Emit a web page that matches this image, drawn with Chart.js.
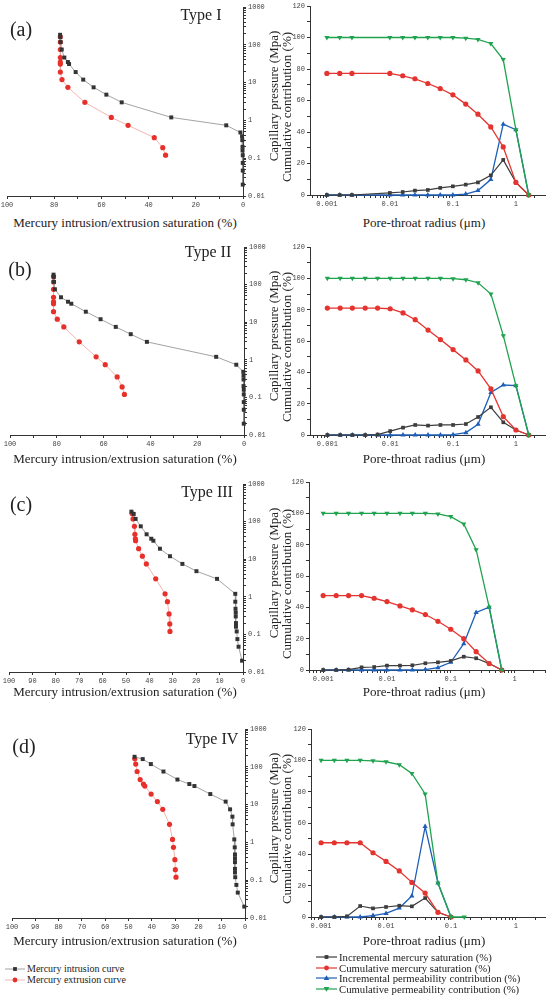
<!DOCTYPE html>
<html>
<head>
<meta charset="utf-8">
<script src="https://cdn.jsdelivr.net/npm/chart.js@4.4.1/dist/chart.umd.min.js"></script>
<style>
body { margin: 0; background: #fff; }
#page { position: relative; width: 550px; height: 999px; overflow: hidden; font-family: 'Liberation Serif', serif; color: #222; }
.box { position: absolute; }
.t { position: absolute; white-space: nowrap; line-height: 1; transform: translate(-50%, -50%); }
.lg { position: absolute; white-space: nowrap; line-height: 1; transform: translateY(-50%); }
</style>
</head>
<body>
<div id="page"></div>
<script>
// ---------------------------------------------------------------
// data
// ---------------------------------------------------------------

// capillary pressure steps (MPa), same for all samples
var intrusionPressure = [184, 160, 118, 75, 46, 35, 31, 19, 12, 7.5, 4.8, 3.0, 1.2, 0.74, 0.48, 0.38, 0.3, 0.2, 0.16, 0.12, 0.075, 0.047, 0.02];
var extrusionPressure = [163, 118, 75, 46, 35, 31, 19, 12, 7.5, 3.0, 1.2, 0.74, 0.35, 0.19, 0.12];

// mercury saturation (%) at those pressures
var intrusionI   = [77.5, 77.4, 77.3, 76.8, 75.7, 74.2, 73.7, 70.9, 67.7, 63.3, 57.9, 51.4, 30.4, 7.1, 1.1, 0.4, 0.3, 0.2, 0.2, 0.1, 0.1, 0.1, 0.1];
var extrusionI   = [77.4, 77.4, 77.4, 77.4, 77.4, 77.4, 77.4, 76.7, 74.2, 67.0, 55.8, 48.7, 37.6, 34.0, 32.8];
var intrusionII  = [81.4, 81.3, 81.2, 80.8, 78.2, 75.2, 73.8, 67.6, 61.3, 54.8, 48.4, 41.5, 11.9, 3.3, 0.3, 0.2, 0.2, 0.2, 0.1, 0.1, 0.1, 0.1, 0.1];
var extrusionII  = [81.4, 81.4, 81.4, 81.4, 81.4, 81.4, 81.4, 79.8, 77.0, 70.4, 63.2, 59.3, 54.2, 52.1, 51.1];
var intrusionIII = [47.7, 46.7, 45.9, 43.7, 41.2, 39.2, 38.3, 35.5, 31.2, 25.9, 19.9, 11.1, 3.3, 3.3, 3.2, 3.1, 3.1, 3.0, 3.0, 2.7, 2.4, 1.9, 0.4];
var extrusionIII = [47.4, 47.0, 46.4, 46.2, 46.0, 45.9, 44.6, 43.0, 41.3, 37.3, 33.3, 32.3, 31.6, 31.3, 31.2];
var intrusionIV  = [47.4, 43.9, 40.4, 35.0, 29.0, 23.9, 21.7, 14.9, 8.3, 6.4, 5.4, 5.3, 4.6, 4.4, 4.3, 4.3, 4.3, 4.3, 4.3, 4.2, 3.7, 3.1, 0.3];
var extrusionIV  = [47.3, 46.9, 46.3, 45.0, 43.6, 43.0, 40.3, 37.6, 35.3, 32.4, 31.1, 30.7, 30.1, 29.9, 29.6];

// pore-throat radius bins (um)
var poreRadius = [0.001, 0.0016, 0.0025, 0.004, 0.0063, 0.01, 0.016, 0.025, 0.04, 0.063, 0.1, 0.16, 0.25, 0.4, 0.63, 1, 1.6];

var incMercI  = [0, 0, 0, null, null, 1.3, 1.9, 2.8, 3.2, 4.5, 5.5, 6.6, 8.0, 12.5, 22.3, 8.0, 0];
var cumMercI  = [77.2, 77.2, 77.2, null, null, 77.2, 75.7, 73.8, 70.8, 67.6, 63.6, 57.7, 51.3, 43.2, 30.5, 8.0, 0];
var incPermI  = [0, 0, 0, null, null, 0, 0, 0, 0, 0, 0, 0.6, 2.8, 9.8, 45.0, 41.5, 0];
var cumPermI  = [100, 100, 100, null, null, 100, 100, 100, 100, 100, 100, 99.6, 98.8, 96.2, 86.0, 41.5, 0];

var incMercII = [0, 0, 0, 0, 0.3, 2.5, 4.7, 6.4, 6.0, 6.4, 6.4, 7.0, 11.5, 17.7, 8.1, 3.2, 0];
var cumMercII = [81.0, 81.0, 81.0, 81.0, 81.0, 80.6, 77.9, 73.6, 67.0, 60.9, 54.5, 47.9, 40.9, 29.4, 11.7, 3.2, 0];
var incPermII = [0, 0, 0, 0, 0, 0, 0, 0, 0, 0, 0.2, 1.5, 6.8, 27.2, 31.9, 31.5, 0];
var cumPermII = [100, 100, 100, 100, 100, 100, 100, 100, 100, 100, 99.8, 99.1, 97.2, 90.0, 63.4, 31.5, 0];

var incMercIII = [0, 0, 0.2, 1.7, 1.9, 2.8, 2.8, 3.0, 4.3, 4.9, 5.8, 8.5, 7.5, 4.1, 0];
var cumMercIII = [47.5, 47.5, 47.5, 47.5, 45.8, 43.7, 40.9, 38.4, 35.4, 31.1, 26.0, 20.0, 11.7, 4.1, 0];
var incPermIII = [0, 0, 0, 0, 0, 0, 0, 0, 0.3, 1.5, 4.9, 16.8, 36.7, 40.1, 0];
var cumPermIII = [100, 100, 100, 100, 100, 100, 100, 100, 100, 99.6, 97.9, 93.2, 76.8, 40.1, 0];

var incMercIV = [0, 0, 0.4, 7.0, 5.5, 6.4, 7.2, 6.8, 12.1, 3.0, 0];
var cumMercIV = [47.4, 47.4, 47.4, 47.4, 41.0, 35.5, 29.4, 22.1, 15.3, 3.0, 0];
var incPermIV = [0, 0, 0, 0, 0.9, 2.3, 5.7, 13.4, 57.7, 21.7, 0];
var cumPermIV = [100, 100, 100, 100, 99.7, 99.1, 97.2, 91.6, 78.5, 21.7, 0, 0];

var typeNames = ['Type I', 'Type II', 'Type III', 'Type IV'];
var panelTags = ['(a)', '(b)', '(c)', '(d)'];

// ---------------------------------------------------------------
// layout
// ---------------------------------------------------------------
var page = document.getElementById('page');
var tickFont = { family: 'Liberation Mono', size: 7 };
var inkCol = '#333';

function addText(txt, x, y, size, rot) {
    var d = document.createElement('div');
    d.className = 't';
    d.textContent = txt;
    d.style.left = x + 'px';
    d.style.top = y + 'px';
    d.style.fontSize = size + 'px';
    if (rot) d.style.transform = 'translate(-50%,-50%) rotate(' + rot + 'deg)';
    page.appendChild(d);
}

function logTicks(min, max) {
    var out = [];
    for (var e = -5; e <= 3; e++) {
        for (var m = 1; m <= 9; m++) {
            var v = +(m * Math.pow(10, e)).toPrecision(2);
            if (v >= min * 0.9999 && v <= max * 1.0001) out.push({ value: v });
        }
    }
    return out;
}

function decadeLabel(v) {
    var l = Math.log10(v);
    return Math.abs(l - Math.round(l)) < 1e-6 ? String(+v.toPrecision(1)) : '';
}

function makeBox(L, T, w, h) {
    var div = document.createElement('div');
    div.className = 'box';
    div.style.left = L + 'px';
    div.style.top = T + 'px';
    div.style.width = w + 'px';
    div.style.height = h + 'px';
    var cv = document.createElement('canvas');
    div.appendChild(cv);
    page.appendChild(div);
    return cv;
}

function baseOptions(pad) {
    return {
        animation: false,
        responsive: true,
        maintainAspectRatio: false,
        events: [],
        layout: { padding: pad, autoPadding: false },
        plugins: { legend: { display: false }, tooltip: { enabled: false } }
    };
}

function leftChart(box, intr, extr, every) {
    var pad = { left: 14, top: 8, right: 2, bottom: 2 };
    var axW = 28, axH = 14;
    var cv = makeBox(box.L - pad.left, box.T - pad.top,
        box.R - box.L + axW + pad.left + pad.right,
        box.B - box.T + axH + pad.top + pad.bottom);
    var opts = baseOptions(pad);
    opts.scales = {
        x: {
            type: 'linear', reverse: true, min: 0, max: 100, position: 'bottom',
            afterFit: function (s) { s.height = axH; },
            ticks: { stepSize: 10, autoSkip: false, maxRotation: 0, padding: 2, font: tickFont, color: '#444',
                callback: function (v) { return v % every === 0 ? String(v) : ''; } },
            grid: { drawOnChartArea: false, tickLength: 3, color: inkCol },
            border: { color: inkCol, width: 1 }
        },
        y: {
            type: 'logarithmic', position: 'right', min: 0.01, max: 1000,
            afterFit: function (s) { s.width = axW; },
            afterBuildTicks: function (s) { s.ticks = logTicks(0.01, 1000); },
            ticks: { autoSkip: false, padding: 2, font: tickFont, color: '#444', callback: decadeLabel },
            grid: { drawOnChartArea: false, tickLength: 3, color: inkCol },
            border: { color: inkCol, width: 1 }
        }
    };
    new Chart(cv, {
        type: 'line',
        data: {
            datasets: [{
                data: intrusionPressure.map(function (p, i) { return { x: intr[i], y: p }; }),
                borderColor: '#8c8c8c', borderWidth: 0.8, clip: false,
                pointStyle: 'rect', pointRadius: 2.8, pointBackgroundColor: '#333', pointBorderWidth: 0
            }, {
                data: extrusionPressure.map(function (p, i) { return { x: extr[i], y: p }; }),
                borderColor: '#f2a19c', borderWidth: 0.8, clip: false,
                pointStyle: 'circle', pointRadius: 2.6, pointBackgroundColor: '#e8302a', pointBorderWidth: 0
            }]
        },
        options: opts
    });
}

function series(vals) {
    var pts = [];
    vals.forEach(function (v, i) { pts.push({ x: poreRadius[i], y: v }); });
    return pts;
}

function rightChart(box, xmin, xmax, incM, cumM, incP, cumP) {
    var pad = { left: 2, top: 8, right: 6, bottom: 2 };
    var axW = 20, axH = 14;
    var cv = makeBox(box.L - axW - pad.left, box.T - pad.top,
        box.R - box.L + axW + pad.left + pad.right,
        box.B - box.T + axH + pad.top + pad.bottom);
    var opts = baseOptions(pad);
    opts.scales = {
        x: {
            type: 'logarithmic', min: xmin, max: xmax, position: 'bottom',
            afterFit: function (s) { s.height = axH; },
            afterBuildTicks: function (s) { s.ticks = logTicks(xmin, xmax); },
            ticks: { autoSkip: false, maxRotation: 0, padding: 2, font: tickFont, color: '#444', callback: decadeLabel },
            grid: { drawOnChartArea: false, tickLength: 3, color: inkCol },
            border: { color: inkCol, width: 1 }
        },
        y: {
            type: 'linear', position: 'left', min: 0, max: 120,
            afterFit: function (s) { s.width = axW; },
            ticks: { stepSize: 10, autoSkip: false, padding: 2, font: tickFont, color: '#444',
                callback: function (v) { return v % 20 === 0 ? String(v) : ''; } },
            grid: { drawOnChartArea: false, tickLength: 3, color: inkCol },
            border: { color: inkCol, width: 1 }
        }
    };
    new Chart(cv, {
        type: 'line',
        data: {
            datasets: [{
                data: series(cumP), borderColor: '#1fa34e', borderWidth: 1.3, spanGaps: true, clip: false,
                pointStyle: 'triangle', pointRotation: 180, pointRadius: 3, pointBackgroundColor: '#1fa34e', pointBorderWidth: 0
            }, {
                data: series(cumM), borderColor: '#e53430', borderWidth: 1.3, spanGaps: true, clip: false,
                pointStyle: 'circle', pointRadius: 2.6, pointBackgroundColor: '#e53430', pointBorderWidth: 0
            }, {
                data: series(incM), borderColor: '#3d3d3d', borderWidth: 1.2, spanGaps: true, clip: false,
                pointStyle: 'rect', pointRadius: 2.6, pointBackgroundColor: '#3d3d3d', pointBorderWidth: 0
            }, {
                data: series(incP), borderColor: '#1d5fb8', borderWidth: 1.3, spanGaps: true, clip: false,
                pointStyle: 'triangle', pointRadius: 3, pointBackgroundColor: '#1d5fb8', pointBorderWidth: 0
            }]
        },
        options: opts
    });
}

// plot-area rectangles, in page pixels
var leftBoxes = [
    { L: 7, T: 7, R: 243, B: 196 },
    { L: 10, T: 247, R: 244, B: 435 },
    { L: 9, T: 484, R: 243, B: 672 },
    { L: 12, T: 729, R: 245, B: 918 }
];
var rightBoxes = [
    { L: 310, T: 6, R: 545, B: 195 },
    { L: 310, T: 247, R: 545, B: 435 },
    { L: 309, T: 482, R: 545, B: 670 },
    { L: 311, T: 729, R: 545, B: 917 }
];
var xTitleY = [222, 458, 691, 940];
var tagPos = [[21, 29], [20, 269], [21, 504], [24, 746]];
var typePos = [[201, 15], [208, 252], [207, 492], [212, 739]];

leftChart(leftBoxes[0], intrusionI, extrusionI, 20);
leftChart(leftBoxes[1], intrusionII, extrusionII, 20);
leftChart(leftBoxes[2], intrusionIII, extrusionIII, 10);
leftChart(leftBoxes[3], intrusionIV, extrusionIV, 10);

rightChart(rightBoxes[0], 0.00054, 2.9, incMercI, cumMercI, incPermI, cumPermI);
rightChart(rightBoxes[1], 0.00053, 2.9, incMercII, cumMercII, incPermII, cumPermII);
rightChart(rightBoxes[2], 0.0006, 3.0, incMercIII, cumMercIII, incPermIII, cumPermIII);
rightChart(rightBoxes[3], 0.0007, 2.8, incMercIV, cumMercIV, incPermIV, cumPermIV);

for (var k = 0; k < 4; k++) {
    var lb = leftBoxes[k];
    var mid = (lb.T + lb.B) / 2;
    addText(panelTags[k], tagPos[k][0], tagPos[k][1], 20);
    addText(typeNames[k], typePos[k][0], typePos[k][1], 16);
    addText('Mercury intrusion/extrusion saturation (%)', 125, xTitleY[k], 13);
    addText('Pore-throat radius (\u03bcm)', 424, xTitleY[k], 13);
    addText('Capillary pressure (Mpa)', 273, mid - 5.5, 13, -90);
    addText('Cumulative contribution (%)', 286, mid + 5.5, 13, -90);
}

// ---------------------------------------------------------------
// legends
// ---------------------------------------------------------------
function legendItem(x, y, w, lineCol, lineW, fill, shape, txt, size) {
    var ns = 'http://www.w3.org/2000/svg';
    var svg = document.createElementNS(ns, 'svg');
    svg.setAttribute('width', w);
    svg.setAttribute('height', 10);
    svg.style.position = 'absolute';
    svg.style.left = x + 'px';
    svg.style.top = (y - 5) + 'px';
    var ln = document.createElementNS(ns, 'line');
    ln.setAttribute('x1', 0); ln.setAttribute('x2', w);
    ln.setAttribute('y1', 5); ln.setAttribute('y2', 5);
    ln.setAttribute('stroke', lineCol); ln.setAttribute('stroke-width', lineW);
    svg.appendChild(ln);
    var c = w / 2, mk;
    if (shape === 'rect') {
        mk = document.createElementNS(ns, 'rect');
        mk.setAttribute('x', c - 1.9); mk.setAttribute('y', 3.1);
        mk.setAttribute('width', 3.8); mk.setAttribute('height', 3.8);
    } else if (shape === 'circle') {
        mk = document.createElementNS(ns, 'circle');
        mk.setAttribute('cx', c); mk.setAttribute('cy', 5); mk.setAttribute('r', 2.4);
    } else if (shape === 'up') {
        mk = document.createElementNS(ns, 'polygon');
        mk.setAttribute('points', (c - 2.8) + ',7 ' + (c + 2.8) + ',7 ' + c + ',2.2');
    } else {
        mk = document.createElementNS(ns, 'polygon');
        mk.setAttribute('points', (c - 2.8) + ',3 ' + (c + 2.8) + ',3 ' + c + ',7.8');
    }
    mk.setAttribute('fill', fill);
    svg.appendChild(mk);
    page.appendChild(svg);
    var t = document.createElement('div');
    t.className = 'lg';
    t.textContent = txt;
    t.style.left = (x + w + 2) + 'px';
    t.style.top = y + 'px';
    t.style.fontSize = size + 'px';
    page.appendChild(t);
}

legendItem(5, 969, 20, '#8c8c8c', 0.8, '#333', 'rect', 'Mercury intrusion curve', 10);
legendItem(5, 980, 20, '#f2a19c', 0.8, '#e8302a', 'circle', 'Mercury extrusion curve', 10);

legendItem(316, 957, 21, '#3d3d3d', 1.2, '#3d3d3d', 'rect', 'Incremental mercury saturation (%)', 10.7);
legendItem(316, 967.5, 21, '#e53430', 1.2, '#e53430', 'circle', 'Cumulative mercury saturation (%)', 10.7);
legendItem(316, 978, 21, '#1d5fb8', 1.2, '#1d5fb8', 'up', 'Incremental permeability contribution (%)', 10.7);
legendItem(316, 988.5, 21, '#1fa34e', 1.2, '#1fa34e', 'down', 'Cumulative permeability contribution (%)', 10.7);
</script>
</body>
</html>
